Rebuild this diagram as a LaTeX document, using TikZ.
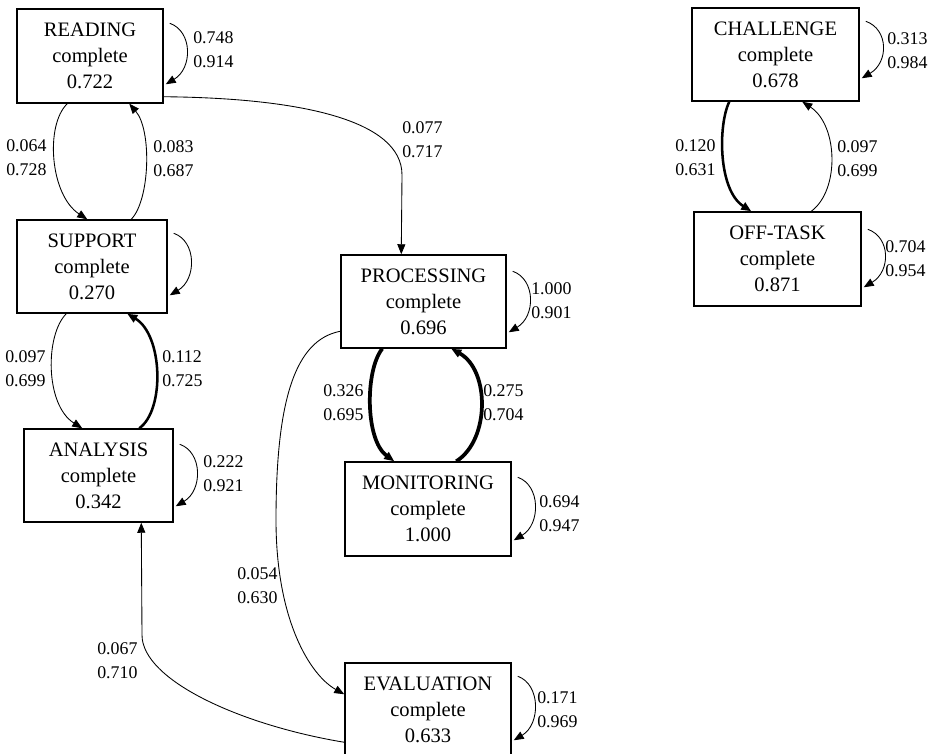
\documentclass[tikz,border=0pt]{standalone}
\usepackage{fontspec}
\setmainfont{Liberation Serif}
\usetikzlibrary{arrows.meta,calc}
\begin{document}
\begin{tikzpicture}[x=0.75pt,y=-0.75pt,
  box/.style={draw,line width=1.1pt,inner sep=0pt,align=center,
    font=\fontsize{15.4}{19.5}\selectfont},
  lbl/.style={anchor=west,inner sep=0pt,align=left,
    font=\fontsize{13.4}{18}\selectfont},
  edge/.style={line width=0.65pt,-{Triangle[length=7.5pt,width=6pt]}},
  thk/.style={line width=1.9pt},
  thkk/.style={line width=2.8pt}]
\clip (0,0) rectangle (935,753);
\useasboundingbox (0,0) rectangle (935,753);

% boxes
\node[box,minimum width=109.5pt,minimum height=70.5pt] (reading) at (90,56) {READING\\complete\\0.722};
\node[box,minimum width=112.5pt,minimum height=69.75pt] (support) at (92,266.5) {SUPPORT\\complete\\0.270};
\node[box,minimum width=111.75pt,minimum height=69.75pt] (analysis) at (98.5,475.5) {ANALYSIS\\complete\\0.342};
\node[box,minimum width=123.75pt,minimum height=69.75pt] (processing) at (423.5,301.5) {PROCESSING\\complete\\0.696};
\node[box,minimum width=124.5pt,minimum height=70.5pt] (monitoring) at (428,509) {MONITORING\\complete\\1.000};
\node[box,minimum width=124.5pt,minimum height=70.5pt] (evaluation) at (428,710) {EVALUATION\\complete\\0.633};
\node[box,minimum width=125.25pt,minimum height=69.75pt] (challenge) at (775.5,54.5) {CHALLENGE\\complete\\0.678};
\node[box,minimum width=125.25pt,minimum height=70.5pt] (offtask) at (777.5,259) {OFF-TASK\\complete\\0.871};

% self loops
\foreach \n/\sy/\ey in {reading/15/76, support/14/76, analysis/16/78, processing/17/78,
  monitoring/16/79, evaluation/14/78, challenge/14/71, offtask/18/76}{
  \coordinate (\n-ls) at ($(\n.north east)+(6,\sy)$);
  \coordinate (\n-le) at ($(\n.north east)+(2,\ey)$);
  \draw[edge] (\n-ls) .. controls +(23,8) and +(27,-16) .. (\n-le);
}

% reading <-> support
\draw[edge] ($(reading.south west)+(51,0)$) .. controls (45,125) and (50,195) .. ($(support.north west)+(71,0)$);
\draw[edge] ($(support.north west)+(115,0)$) .. controls (150,200) and (152,130) .. ($(reading.south west)+(113,0)$);
% support <-> analysis
\draw[edge] ($(support.south west)+(50,0)$) .. controls (45,335) and (45,405) .. ($(analysis.north west)+(59,0)$);
\draw[edge,thk] ($(analysis.north west)+(116,0)$) .. controls (165,410) and (163,335) .. ($(support.south west)+(111,0)$);
% reading -> processing
\draw[edge] ($(reading.south east)+(0,-7)$) .. controls (300,98) and (402,120) .. (402,175) -- ($(processing.north west)+(61,0)$);
% processing <-> monitoring
\draw[edge,thkk] ($(processing.south west)+(42,0)$) .. controls (365,370) and (365,440) .. ($(monitoring.north west)+(50,0)$);
\draw[edge,thkk] ($(monitoring.north west)+(112,0)$) .. controls (490,440) and (490,370) .. ($(processing.south west)+(111,0)$);
% processing -> evaluation
\draw[edge] ($(processing.north west)+(0,77)$) .. controls (295,340) and (276,400) .. (276,520)
  .. controls (276,620) and (310,675) .. ($(evaluation.north west)+(0,32)$);
% evaluation -> analysis
\draw[edge] ($(evaluation.north west)+(0,80)$) .. controls (240,725) and (142,680) .. (142,635) -- ($(analysis.south west)+(118,0)$);
% challenge <-> offtask
\draw[edge,thk] ($(challenge.south west)+(38,0)$) .. controls (718,125) and (718,190) .. ($(offtask.north west)+(58,0)$);
\draw[edge] ($(offtask.north west)+(118,0)$) .. controls (840,190) and (838,125) .. ($(challenge.south west)+(111,0)$);

% labels
\node[lbl] (l1) at (193,50) {0.748\\0.914};
\node[lbl] (l2) at (6,157.5) {0.064\\0.728};
\node[lbl] (l3) at (153,159) {0.083\\0.687};
\node[lbl] (l4) at (402,140) {0.077\\0.717};
\node[lbl] (l5) at (5,369) {0.097\\0.699};
\node[lbl] (l6) at (162,369) {0.112\\0.725};
\node[lbl] (l7) at (203,474) {0.222\\0.921};
\node[lbl] (l8) at (531,301) {1.000\\0.901};
\node[lbl] (l9) at (323,403) {0.326\\0.695};
\node[lbl] (l10) at (483,403) {0.275\\0.704};
\node[lbl] (l11) at (539,514) {0.694\\0.947};
\node[lbl] (l12) at (237,585.5) {0.054\\0.630};
\node[lbl] (l13) at (97,660.5) {0.067\\0.710};
\node[lbl] (l14) at (537,710) {0.171\\0.969};
\node[lbl] (l15) at (887,50.5) {0.313\\0.984};
\node[lbl] (l16) at (675,158) {0.120\\0.631};
\node[lbl] (l17) at (837,159) {0.097\\0.699};
\node[lbl] (l18) at (885,259) {0.704\\0.954};
\end{tikzpicture}
\end{document}
